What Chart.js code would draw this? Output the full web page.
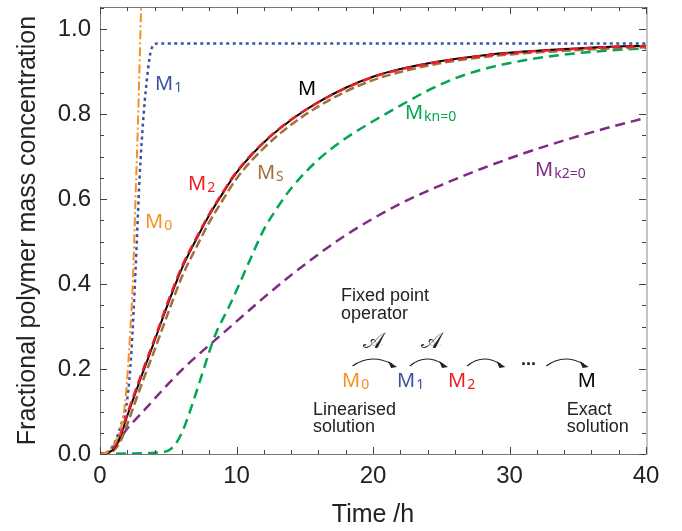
<!DOCTYPE html>
<html>
<head>
<meta charset="utf-8">
<script src="https://cdn.jsdelivr.net/npm/chart.js@4.4.1/dist/chart.umd.min.js"></script>
<style>
  body { margin: 0; background: #fff; }
  canvas { display: block; }
</style>
</head>
<body>
<canvas id="massChart" width="682" height="531"></canvas>
<script>
// tick labels
const xTicks = [0, 10, 20, 30, 40];
const yTicks = [0, 0.2, 0.4, 0.6, 0.8, 1.0];

// shared time grid for most curves (hours)
const time = [0, 0.5, 1, 1.5, 2, 2.5, 3, 3.5, 4, 5, 6, 7, 8, 9, 10, 12, 14, 16, 18, 20, 22, 25, 28, 31, 34, 37, 40];
const mExact = [0, 0.002, 0.012, 0.042, 0.09, 0.135, 0.18, 0.223, 0.267, 0.355, 0.437, 0.502, 0.562, 0.614, 0.662, 0.733, 0.786, 0.828, 0.862, 0.888, 0.906, 0.925, 0.938, 0.947, 0.953, 0.958, 0.961];
const m2 = [0, 0.003, 0.015, 0.047, 0.095, 0.14, 0.185, 0.228, 0.271, 0.36, 0.441, 0.505, 0.564, 0.616, 0.664, 0.734, 0.787, 0.828, 0.861, 0.887, 0.905, 0.924, 0.937, 0.946, 0.952, 0.957, 0.960];
const mS = [0, 0.001, 0.008, 0.03, 0.07, 0.115, 0.16, 0.203, 0.245, 0.333, 0.417, 0.483, 0.545, 0.598, 0.648, 0.72, 0.775, 0.818, 0.853, 0.88, 0.899, 0.92, 0.934, 0.943, 0.949, 0.954, 0.957];
const mK2 = [0, 0.002, 0.012, 0.037, 0.06, 0.078, 0.095, 0.112, 0.13, 0.165, 0.198, 0.228, 0.256, 0.284, 0.312, 0.368, 0.421, 0.47, 0.515, 0.554, 0.589, 0.633, 0.672, 0.707, 0.738, 0.766, 0.791];

// nucleation-free curve
const timeKn = [0, 2, 4, 5, 5.5, 6, 6.5, 7, 7.5, 8, 8.5, 9, 9.5, 10, 11, 12, 13, 14, 16, 18, 20, 22, 24, 26, 28, 31, 34, 37, 40];
const mKn = [0, 0.001, 0.003, 0.008, 0.022, 0.05, 0.092, 0.14, 0.19, 0.24, 0.285, 0.318, 0.35, 0.385, 0.458, 0.528, 0.58, 0.625, 0.693, 0.743, 0.783, 0.82, 0.855, 0.884, 0.905, 0.926, 0.94, 0.949, 0.955];

// linearised solution M0
const time0 = [0, 0.5, 1, 1.5, 1.8, 2, 2.2, 2.4, 2.6, 2.8, 3, 3.2];
const m0 = [0, 0.004, 0.022, 0.058, 0.11, 0.18, 0.28, 0.4, 0.6, 0.8, 1.04, 1.28];

// first iterate M1
const time1 = [0, 0.5, 1, 1.5, 2, 2.3, 2.6, 2.9, 3.2, 3.5, 3.7, 3.9, 4.2, 40];
const m1 = [0, 0.004, 0.022, 0.064, 0.13, 0.24, 0.43, 0.65, 0.8, 0.9, 0.945, 0.962, 0.966, 0.966];

const C = {
  orange: '#f7901e', blue: '#3953a4', red: '#ed1c24', brown: '#a0703c',
  green: '#00a651', purple: '#7f2a85', black: '#000000'
};

function pts(xs, ys) { return xs.map((t, i) => ({ x: t, y: ys[i] })); }

// curve labels: [main, sub, t, v, colour]  (t,v = left edge / vertical centre, data units)
const curveLabels = [
  ['M', '1', 4.03, 0.873, C.blue],
  ['M', '', 14.5, 0.861, C.black],
  ['M', 'kn=0', 22.34, 0.805, C.green],
  ['M', '2', 6.45, 0.638, C.red],
  ['M', 'S', 11.5, 0.663, C.brown],
  ['M', '0', 3.3, 0.548, C.orange],
  ['M', 'k2=0', 31.87, 0.671, C.purple],
  // inset scheme
  ['M', '0', 17.73, 0.174, C.orange],
  ['M', '1', 21.76, 0.174, C.blue],
  ['M', '2', 25.5, 0.174, C.red],
  ['M', '', 35.0, 0.174, C.black]
];
const insetText = [
  ['Fixed point', 17.66, 0.372],
  ['operator', 17.66, 0.329],
  ['Linearised', 15.6, 0.1035],
  ['solution', 15.6, 0.0635],
  ['Exact', 34.2, 0.1035],
  ['solution', 34.2, 0.0635]
];
const insetArrows = [[18.5, 21.76], [22.7, 25.5], [26.9, 29.7], [32.7, 35.8]];

const labelPlugin = {
  id: 'labels',
  afterDatasetsDraw(chart) {
    const { ctx, scales: { x, y } } = chart;
    ctx.save();
    ctx.textBaseline = 'alphabetic';
    ctx.textAlign = 'left';
    curveLabels.forEach(([main, sub, t, v, col]) => {
      const px = x.getPixelForValue(t), py = y.getPixelForValue(v) + 7;
      ctx.fillStyle = col;
      ctx.font = '20px "Noto Sans"';
      ctx.fillText(main, px, py);
      const w = ctx.measureText(main).width;
      ctx.font = '14px "Noto Sans"';
      ctx.fillText(sub, px + w + 1, py + 2);
    });
    ctx.fillStyle = '#222';
    ctx.font = '18px "Liberation Sans"';
    ctx.textBaseline = 'middle';
    insetText.forEach(([s, t, v]) => ctx.fillText(s, x.getPixelForValue(t), y.getPixelForValue(v)));

    // operator symbols
    ctx.textAlign = 'center';
    ctx.font = '22px "DejaVu Serif"';
    ctx.fillText('𝒜', x.getPixelForValue(20.0), y.getPixelForValue(0.264));
    ctx.fillText('𝒜', x.getPixelForValue(24.3), y.getPixelForValue(0.264));
    ctx.font = 'bold 18px "Liberation Sans"';
    ctx.fillText('...', x.getPixelForValue(31.4), y.getPixelForValue(0.222));

    // curved arrows
    ctx.strokeStyle = '#222';
    ctx.fillStyle = '#222';
    ctx.lineWidth = 1.2;
    insetArrows.forEach(([t1, t2]) => {
      const x1 = x.getPixelForValue(t1), x2 = x.getPixelForValue(t2);
      const yb = y.getPixelForValue(0.207);
      const cx = (x1 + x2) / 2 - 4;
      ctx.beginPath();
      ctx.moveTo(x1, yb);
      ctx.quadraticCurveTo(cx, yb - 13, x2 - 5, yb - 2);
      ctx.stroke();
      ctx.beginPath();
      ctx.moveTo(x2, yb + 1);
      ctx.lineTo(x2 - 9, yb - 5);
      ctx.lineTo(x2 - 6, yb + 2);
      ctx.closePath();
      ctx.fill();
    });
    ctx.restore();
  }
};

// box with inward major/minor ticks on all sides
const framePlugin = {
  id: 'frame',
  afterDatasetsDraw(chart) {
    const { ctx, chartArea: a, scales: { x, y } } = chart;
    ctx.save();
    ctx.lineWidth = 1;
    ctx.strokeStyle = '#777';
    ctx.beginPath();
    ctx.moveTo(a.left + 0.5, a.top + 0.5);
    ctx.lineTo(a.left + 0.5, a.bottom + 0.5);
    ctx.lineTo(a.right, a.bottom + 0.5);
    ctx.moveTo(a.left, a.top + 0.5);
    ctx.lineTo(a.right, a.top + 0.5);
    ctx.stroke();
    ctx.strokeStyle = '#c4c4c4';
    ctx.lineWidth = 2;
    ctx.beginPath();
    ctx.moveTo(a.right + 1, a.top);
    ctx.lineTo(a.right + 1, a.bottom + 1);
    ctx.stroke();

    ctx.strokeStyle = '#444';
    ctx.lineWidth = 1;
    ctx.beginPath();
    for (let t = 0; t <= 40; t += 2) {
      const len = t % 10 === 0 ? 7 : 4;
      const px = Math.round(x.getPixelForValue(t)) + 0.5;
      ctx.moveTo(px, a.bottom); ctx.lineTo(px, a.bottom - len);
      ctx.moveTo(px, a.top); ctx.lineTo(px, a.top + len);
    }
    for (let k = 0; k <= 21; k++) {
      const len = k % 4 === 0 ? 7 : 4;
      const py = Math.round(y.getPixelForValue(k * 0.05)) + 0.5;
      ctx.moveTo(a.left, py); ctx.lineTo(a.left + len, py);
      ctx.moveTo(a.right, py); ctx.lineTo(a.right - len, py);
    }
    ctx.stroke();
    ctx.restore();
  }
};

const axisFont = { family: '"Liberation Sans", Arial, sans-serif', size: 24 };
const titleFont = { family: '"Liberation Sans", Arial, sans-serif', size: 25 };

// keep the plot box where the figure has it, regardless of label overhang
function noPad(s) { s.paddingTop = 0; s.paddingBottom = 0; s.paddingLeft = 0; s.paddingRight = 0; }

const ctx = document.getElementById('massChart').getContext('2d');
const massChart = new Chart(ctx, {
  type: 'line',
  data: {
    datasets: [
      { label: 'M0', data: pts(time0, m0), borderColor: C.orange, borderWidth: 2, borderDash: [9, 3, 2, 3] },
      { label: 'M1', data: pts(time1, m1), borderColor: C.blue, borderWidth: 2.5, borderDash: [3, 3.5] },
      { label: 'M2', data: pts(time, m2), borderColor: C.red, borderWidth: 2.5, borderDash: [9, 5] },
      { label: 'M', data: pts(time, mExact), borderColor: C.black, borderWidth: 2 },
      { label: 'MS', data: pts(time, mS), borderColor: C.brown, borderWidth: 2.5, borderDash: [9, 4] },
      { label: 'Mkn=0', data: pts(timeKn, mKn), borderColor: C.green, borderWidth: 2.5, borderDash: [10, 6] },
      { label: 'Mk2=0', data: pts(time, mK2), borderColor: C.purple, borderWidth: 2.5, borderDash: [10, 6] }
    ]
  },
  options: {
    responsive: false,
    animation: false,
    devicePixelRatio: 1,
    layout: { padding: { left: 6, right: 36, top: 7, bottom: 0 } },
    elements: {
      point: { radius: 0 },
      line: { cubicInterpolationMode: 'monotone', fill: false }
    },
    scales: {
      x: {
        type: 'linear',
        min: 0,
        max: 40,
        afterBuildTicks: s => { s.ticks = xTicks.map(v => ({ value: v })); },
        afterFit: s => { s.height = 77; noPad(s); },
        grid: { display: false, drawTicks: false, tickLength: 0 },
        border: { display: false },
        ticks: { font: axisFont, color: '#222', padding: 8, maxRotation: 0, callback: v => String(v) },
        title: { display: true, text: 'Time /h', font: titleFont, color: '#222', padding: { top: 0, bottom: 1 } }
      },
      y: {
        type: 'linear',
        min: 0,
        max: 1.052,
        afterBuildTicks: s => { s.ticks = yTicks.map(v => ({ value: v })); },
        afterFit: s => { s.width = 94; noPad(s); },
        grid: { display: false, drawTicks: false, tickLength: 0 },
        border: { display: false },
        ticks: { font: axisFont, color: '#222', padding: 9, callback: v => v.toFixed(1) },
        title: { display: true, text: 'Fractional polymer mass concentration', font: titleFont, color: '#222', padding: { top: 7, bottom: 0 } }
      }
    },
    plugins: {
      legend: { display: false },
      tooltip: { enabled: false }
    }
  },
  plugins: [framePlugin, labelPlugin]
});
</script>
</body>
</html>
